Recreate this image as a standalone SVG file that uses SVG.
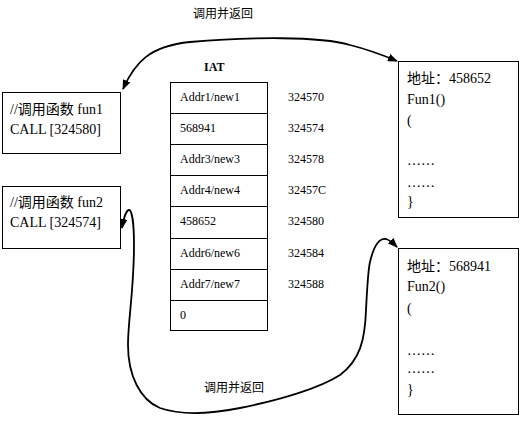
<svg xmlns="http://www.w3.org/2000/svg" width="523" height="423" viewBox="0 0 523 423">
<style>
.box{fill:#fff;stroke:#000;stroke-width:1}
.t{font-family:"Liberation Serif","Noto Sans CJK SC",serif;font-size:14px;fill:#000}
.s{font-family:"Liberation Serif","Noto Sans CJK SC",serif;font-size:12px;fill:#000}
.lbl{font-family:"Noto Sans CJK SC",sans-serif;font-size:12px;fill:#000}
.c{fill:none;stroke:#000;stroke-width:1.8}
</style>
<defs>
<marker id="ah" viewBox="0 0 10 8" refX="9" refY="4" markerWidth="10" markerHeight="8" markerUnits="userSpaceOnUse" orient="auto-start-reverse">
<path d="M0,0 L10,4 L0,8 z" fill="#000"/>
</marker>
</defs>
<rect width="523" height="423" fill="#fff"/>
<g id="connectors">
<path class="c" marker-start="url(#ah)" marker-end="url(#ah)" d="M 123,89 C 135,62 150,46 190,42 C 250,37 320,36 350,45 C 370,50 385,56 397,61"/>
<path class="c" marker-start="url(#ah)" marker-end="url(#ah)" d="M 122,228 C 124,216 127,210 129,210 C 132,210 134,225 134,245 C 134,290 128,320 128,345 C 128,375 140,400 160,408 C 180,415 210,414 240,408 C 280,400 320,388 340,375 C 360,360 365,340 366,310 C 367,290 368,270 370,262 C 374,245 380,238 386,239 C 390,240 393,243 397,247"/>
</g>
<g id="label-top"><text class="lbl" x="193" y="18">调用并返回</text></g>
<g id="label-bottom"><text class="lbl" x="204" y="392">调用并返回</text></g>
<g id="iat-title"><text class="s" x="204" y="71" font-weight="bold">IAT</text></g>
<g id="iat">
<rect class="box" x="170.5" y="82.5" width="97" height="248"/>
<line x1="170.5" y1="113.5" x2="267.5" y2="113.5" stroke="#000"/>
<line x1="170.5" y1="144.5" x2="267.5" y2="144.5" stroke="#000"/>
<line x1="170.5" y1="175.5" x2="267.5" y2="175.5" stroke="#000"/>
<line x1="170.5" y1="206.5" x2="267.5" y2="206.5" stroke="#000"/>
<line x1="170.5" y1="238.5" x2="267.5" y2="238.5" stroke="#000"/>
<line x1="170.5" y1="269.5" x2="267.5" y2="269.5" stroke="#000"/>
<line x1="170.5" y1="300.5" x2="267.5" y2="300.5" stroke="#000"/>
<text class="s" x="180" y="101">Addr1/new1</text>
<text class="s" x="180" y="132">568941</text>
<text class="s" x="180" y="163">Addr3/new3</text>
<text class="s" x="180" y="194">Addr4/new4</text>
<text class="s" x="180" y="225">458652</text>
<text class="s" x="180" y="257">Addr6/new6</text>
<text class="s" x="180" y="288">Addr7/new7</text>
<text class="s" x="180" y="319">0</text>
</g>
<g id="addresses">
<text class="s" x="288" y="101">324570</text>
<text class="s" x="288" y="132">324574</text>
<text class="s" x="288" y="163">324578</text>
<text class="s" x="288" y="194">32457C</text>
<text class="s" x="288" y="225">324580</text>
<text class="s" x="288" y="257">324584</text>
<text class="s" x="288" y="288">324588</text>
</g>
<g id="caller1">
<rect class="box" x="2.5" y="92.5" width="118" height="61"/>
<text class="t" x="10" y="114">//调用函数 fun1</text>
<text class="t" x="10" y="134">CALL [324580]</text>
</g>
<g id="caller2">
<rect class="box" x="2.5" y="186.5" width="118" height="62"/>
<text class="t" x="10" y="207">//调用函数 fun2</text>
<text class="t" x="10" y="227">CALL [324574]</text>
</g>
<g id="fun1">
<rect class="box" x="398.5" y="61.5" width="120" height="156"/>
<text class="t" x="407" y="83">地址：458652</text>
<text class="t" x="407" y="104">Fun1()</text>
<text class="t" x="407" y="125">(</text>
<text class="t" x="407" y="165" fill="#666">……</text>
<text class="t" x="407" y="187" fill="#666">……</text>
<text class="t" x="407" y="206">}</text>
</g>
<g id="fun2">
<rect class="box" x="398.5" y="248.5" width="120" height="166"/>
<text class="t" x="407" y="271">地址：568941</text>
<text class="t" x="407" y="291">Fun2()</text>
<text class="t" x="407" y="313">(</text>
<text class="t" x="407" y="355" fill="#666">……</text>
<text class="t" x="407" y="373" fill="#666">……</text>
<text class="t" x="407" y="394">}</text>
</g>
</svg>
